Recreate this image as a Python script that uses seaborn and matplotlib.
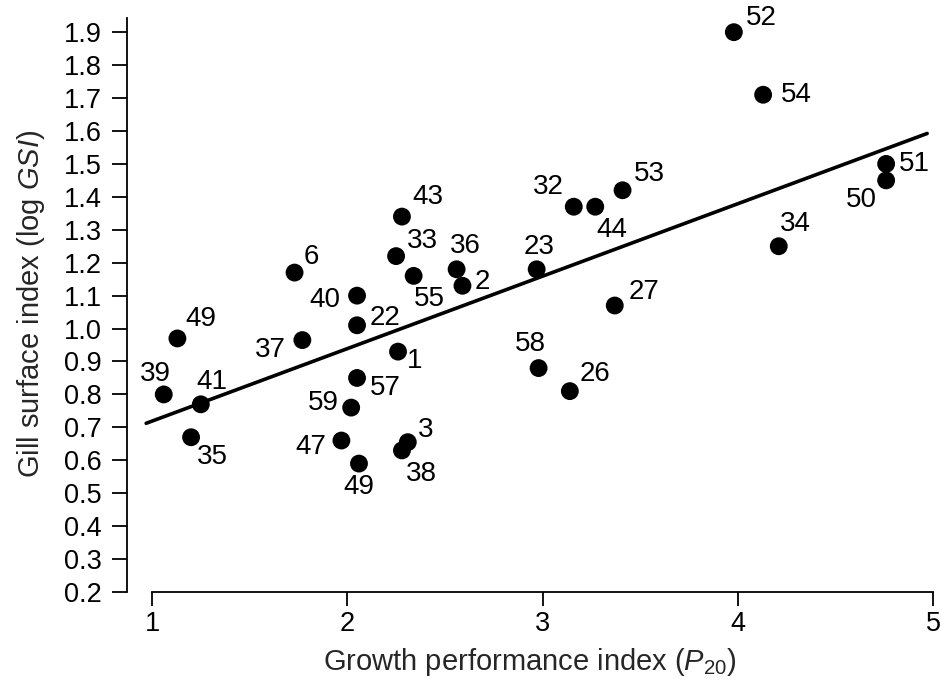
import matplotlib
matplotlib.use("Agg")
import matplotlib.pyplot as plt
import seaborn as sns
import numpy as np
import pandas as pd

# species number, growth performance index (P20), gill surface index (log GSI)
species = ["52", "54", "51", "50", "34", "53", "32", "44", "23", "27",
           "43", "33", "55", "36", "2", "6", "40", "22", "49", "37",
           "1", "39", "41", "35", "57", "59", "47", "49", "3", "38",
           "58", "26"]
p20 = [3.98, 4.13, 4.76, 4.76, 4.21, 3.41, 3.16, 3.27, 2.97, 3.37,
       2.28, 2.25, 2.34, 2.56, 2.59, 1.73, 2.05, 2.05, 1.13, 1.77,
       2.26, 1.06, 1.25, 1.20, 2.05, 2.02, 1.97, 2.06, 2.31, 2.28,
       2.98, 3.14]
log_gsi = [1.90, 1.71, 1.50, 1.45, 1.25, 1.42, 1.37, 1.37, 1.18, 1.07,
           1.34, 1.22, 1.16, 1.18, 1.13, 1.17, 1.10, 1.01, 0.97, 0.965,
           0.93, 0.80, 0.77, 0.67, 0.85, 0.76, 0.66, 0.59, 0.655, 0.63,
           0.88, 0.81]

# regression line drawn in the figure
fit_intercept = 0.499
fit_slope = 0.22
fit_x = [0.97, 4.97]

# label offsets (points), in the same order as species
label_dx = [20, 24, 20, -18, 12, 19, -18, 12, 2, 21,
            19, 19, 11, 6, 14, 12, -23, 20, 17, -23,
            12, -6, 8, 15, 20, -20, -22, 0, 13, 14,
            -6, 18]
label_dy = [10, 0, 0, -14, 16, 12, 14, -17, 16, 10,
            14, 11, -17, 17, 3, 11, -3, 5, 14, -7,
            -7, 15, 16, -14, -7, 3, -5, -17, 9, -17,
            17, 12]

df = pd.DataFrame({"p20": p20, "gsi": log_gsi})

sns.set_theme(style="ticks")
plt.rcParams["font.family"] = ["Liberation Sans", "DejaVu Sans"]
plt.rcParams["mathtext.fontset"] = "custom"
plt.rcParams["mathtext.rm"] = "Liberation Sans"
plt.rcParams["mathtext.it"] = "Liberation Sans:italic"

fig = plt.figure(figsize=(9.41, 6.83), dpi=100)
ax = fig.add_axes([0.135, 0.1332, 0.8565, 0.8438])

sns.scatterplot(data=df, x="p20", y="gsi", ax=ax, color="black",
                s=165, edgecolor="none", zorder=3)

fx = np.array(fit_x)
ax.plot(fx, fit_intercept + fit_slope * fx, color="black", lw=2.6, zorder=2)

for name, x, y, dx, dy in zip(species, p20, log_gsi, label_dx, label_dy):
    ax.annotate(name, (x, y), xytext=(dx, dy), textcoords="offset points",
                ha="center", va="center", fontsize=20, color="black")

ax.set_xlim(0.872, 5.0)
ax.set_ylim(0.2, 1.95)
ax.set_xticks([1, 2, 3, 4, 5])
ax.set_yticks(np.round(np.arange(0.2, 1.91, 0.1), 1))
ax.set_yticklabels([f"{v:.1f}" for v in np.arange(0.2, 1.91, 0.1)])

sns.despine(ax=ax)
ax.spines["bottom"].set_bounds(1, 5)
ax.spines["left"].set_bounds(0.2, 1.943)
for sp in ("left", "bottom"):
    ax.spines[sp].set_linewidth(1.3)
    ax.spines[sp].set_color("black")

ax.tick_params(axis="y", length=11, width=1.3, pad=7, labelsize=19.5,
               colors="black")
ax.tick_params(axis="x", length=10, width=1.3, pad=4, labelsize=19.5,
               colors="black")

ax.set_xlabel(r"Growth performance index ($\mathit{P}_{\mathit{20}}$)",
              fontsize=21, labelpad=6)
ax.set_ylabel(r"Gill surface index (log $\mathit{GSI}$)",
              fontsize=21, labelpad=12)

fig.savefig("out.png", dpi=100)
plt.close(fig)
